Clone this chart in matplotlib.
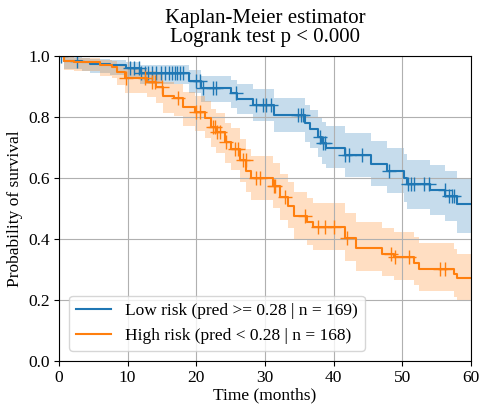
import matplotlib
matplotlib.use("Agg")
import matplotlib.pyplot as plt
import numpy as np

plt.rcParams['font.family'] = ['Liberation Serif', 'DejaVu Serif']

# Low risk group: step times, survival and 95% CI
low_t = [0, 0.7, 3.3, 4.5, 7.4, 9.8, 11.8, 19.0, 20.7, 25.0, 26.0, 28.3, 31.4, 35.8,
         36.5, 37.7, 38.3, 38.9, 41.7, 45.4, 47.8, 50.2, 50.7, 54.0, 56.3, 58.0, 60]
low_s = [1.0, 0.985, 0.98, 0.975, 0.97, 0.96, 0.945, 0.92, 0.895, 0.878, 0.86, 0.84, 0.806, 0.78,
         0.76, 0.735, 0.715, 0.70, 0.675, 0.648, 0.625, 0.60, 0.58, 0.56, 0.54, 0.515, 0.515]
low_hi = [1.0, 0.996, 0.994, 0.991, 0.988, 0.982, 0.972, 0.955, 0.936, 0.922, 0.908, 0.892, 0.862, 0.84,
          0.823, 0.80, 0.783, 0.77, 0.747, 0.722, 0.70, 0.678, 0.66, 0.642, 0.624, 0.60, 0.60]
low_lo = [1.0, 0.958, 0.95, 0.944, 0.937, 0.925, 0.908, 0.878, 0.85, 0.83, 0.81, 0.787, 0.75, 0.72,
          0.698, 0.67, 0.648, 0.632, 0.605, 0.575, 0.55, 0.522, 0.50, 0.48, 0.458, 0.42, 0.42]
low_cens = [0.3, 2.6, 10.3, 10.9, 11.6, 12.0, 12.5, 13.0, 13.5, 14.2, 14.9, 15.4, 16.0, 16.4,
            16.9, 17.2, 17.7, 18.1, 20.0, 20.6, 21.0, 22.5, 22.9, 25.8, 28.7, 29.7, 30.1, 30.9,
            34.8, 35.2, 35.5, 38.1, 38.4, 38.7, 41.7, 42.3, 44.2, 48.1, 50.9, 51.3, 51.7, 53.2,
            53.9, 56.2, 56.8, 57.2, 57.5]

# High risk group
high_t = [0, 0.7, 2.2, 6.0, 7.7, 8.4, 9.6, 12.8, 14.2, 15.2, 16.7, 18.1, 19.8, 21.3, 22.2,
          22.9, 24.2, 25.1, 26.4, 27.3, 28.0, 31.2, 32.2, 33.3, 34.3, 36.2, 37.0, 41.6, 43.2,
          47.1, 48.8, 51.7, 52.4, 57.5, 58.0, 60]
high_s = [1.0, 0.985, 0.98, 0.97, 0.965, 0.947, 0.928, 0.915, 0.90, 0.87, 0.862, 0.832, 0.816,
          0.796, 0.767, 0.75, 0.717, 0.697, 0.658, 0.625, 0.60, 0.575, 0.537, 0.51, 0.477, 0.455,
          0.44, 0.405, 0.372, 0.352, 0.34, 0.322, 0.303, 0.286, 0.273, 0.273]
high_hi = [1.0, 0.996, 0.994, 0.988, 0.985, 0.974, 0.962, 0.952, 0.94, 0.916, 0.91, 0.884, 0.87,
           0.853, 0.827, 0.812, 0.782, 0.764, 0.728, 0.697, 0.674, 0.65, 0.614, 0.588, 0.556, 0.535,
           0.52, 0.487, 0.455, 0.435, 0.424, 0.406, 0.388, 0.368, 0.352, 0.352]
high_lo = [1.0, 0.955, 0.95, 0.935, 0.928, 0.905, 0.88, 0.865, 0.847, 0.815, 0.805, 0.772, 0.755,
           0.733, 0.702, 0.684, 0.65, 0.628, 0.588, 0.553, 0.528, 0.502, 0.463, 0.436, 0.402, 0.38,
           0.365, 0.33, 0.297, 0.278, 0.266, 0.249, 0.23, 0.211, 0.197, 0.197]
high_cens = [9.8, 12.5, 13.5, 14.0, 15.0, 17.4, 20.0, 20.6, 22.4, 22.7, 23.0, 23.5, 24.4, 25.6,
             26.1, 26.8, 27.2, 28.7, 29.3, 31.3, 31.5, 32.9, 35.9, 37.7, 38.8, 40.1, 42.0, 48.3,
             49.0, 51.0, 55.5, 56.2]

groups = [
    ("Low risk (pred >= 0.28 | n = 169)", low_t, low_s, low_lo, low_hi, low_cens, "#1f77b4"),
    ("High risk (pred < 0.28 | n = 168)", high_t, high_s, high_lo, high_hi, high_cens, "#ff7f0e"),
]

fig = plt.figure(figsize=(4.79, 4.04), dpi=100)
ax = fig.add_axes([0.123, 0.106, 0.860, 0.755])

handles = []
for label, t, s, lo, hi, cens, color in groups:
    ax.fill_between(t, lo, hi, step="post", color=color, alpha=0.25, linewidth=0)
    line, = ax.plot(t, s, drawstyle="steps-post", color=color, linewidth=1.5, label=label)
    handles.append(line)
    idx = np.searchsorted(t, cens, side="right") - 1
    ax.plot(cens, np.array(s)[idx], linestyle="none", marker="+", markersize=10,
            markeredgewidth=1, color=color)

ax.set_xlim(0, 60)
ax.set_ylim(0, 1.0)
ax.set_xticks(range(0, 61, 10))
ax.set_yticks(np.arange(0, 1.01, 0.2))
ax.tick_params(labelsize=12.5, pad=3)
ax.grid(True, color="#b0b0b0", linewidth=0.8)
ax.set_xlabel("Time (months)", fontsize=12.5, labelpad=1)
ax.set_ylabel("Probability of survival", fontsize=12.5)
ax.set_title("Kaplan-Meier estimator\nLogrank test p < 0.000", fontsize=15, linespacing=1.05, pad=10)
ax.legend(handles=handles, loc="lower left", fontsize=12.5, borderaxespad=0.6)

fig.savefig("out.png", dpi=100)
